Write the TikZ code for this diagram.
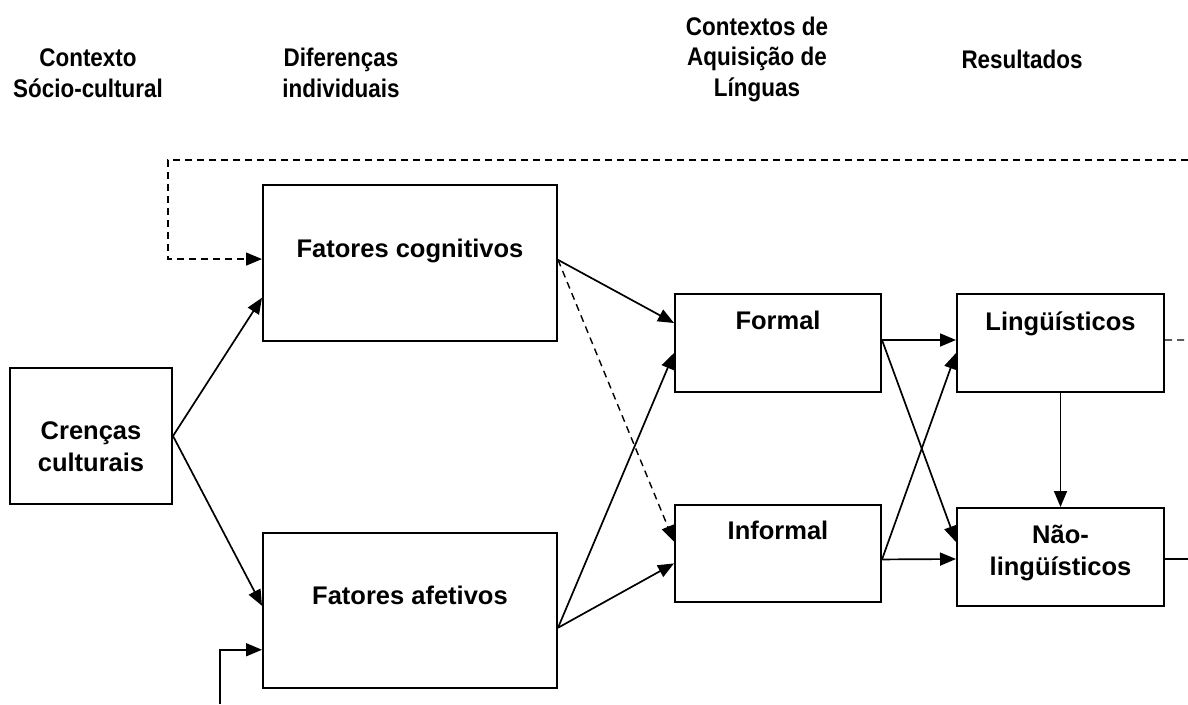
\documentclass[tikz,border=0pt]{standalone}
\usepackage{fontspec}
\setmainfont{Liberation Sans}
\newfontfamily\headfont[FakeStretch=0.88]{Liberation Sans}
\usetikzlibrary{arrows.meta,calc}

\tikzset{
  box/.style={draw, line width=2pt, inner sep=0pt},
  head/.style={font=\headfont\bfseries\fontsize{25.5}{30.5}\selectfont, align=center, anchor=base, inner sep=0pt},
  lbl/.style={font=\bfseries\fontsize{25.5}{31.5}\selectfont, align=center, anchor=base, inner sep=0pt},
  link/.style={line width=1.7pt, -{Triangle[length=16pt,width=13pt]}},
  dlink/.style={line width=1.4pt, dash pattern=on 7pt off 5pt, -{Triangle[length=16pt,width=13pt]}},
  dline/.style={line width=1.4pt, dash pattern=on 7pt off 5pt},
  sline/.style={line width=1.7pt}
}

\begin{document}
\begin{tikzpicture}[x=1pt,y=-1pt]
\useasboundingbox (0,0) rectangle (1188,704);

% column headings (anchored at the baseline of their last line)
\node[head] (h1) at (88,97) {Contexto\\Sócio-cultural};
\node[head] (h2) at (341,97) {Diferenças\\individuais};
\node[head] (h3) at (757,96) {Contextos de\\Aquisição de\\Línguas};
\node[head] (h4) at (1022,68) {Resultados};

% boxes
\node[box, minimum width=162pt, minimum height=136pt] (cren) at (91,436) {};
\node[box, minimum width=294pt, minimum height=156pt] (cog)  at (410,263) {};
\node[box, minimum width=294pt, minimum height=155pt] (afe)  at (410,610.5) {};
\node[box, minimum width=206pt, minimum height=98pt]  (form) at (778,343) {};
\node[box, minimum width=206pt, minimum height=97pt]  (inf)  at (778,553.5) {};
\node[box, minimum width=207pt, minimum height=98pt]  (ling) at (1060.5,343) {};
\node[box, minimum width=207pt, minimum height=98pt]  (nao)  at (1060.5,557) {};

% box texts
\node[lbl] (tcren) at (91,471) {Crenças\\culturais};
\node[lbl] (tcog)  at (410,257) {Fatores cognitivos};
\node[lbl] (tafe)  at (410,604) {Fatores afetivos};
\node[lbl] (tform) at (778,329) {Formal};
\node[lbl] (tinf)  at (778,539) {Informal};
\node[lbl] (tling) at (1060.5,330) {Lingüísticos};
\node[lbl] (tnao)  at (1060.5,575) {Não-\\lingüísticos};

% free ends of the connectors leaving the frame
\coordinate (fbR) at (1188,160);
\coordinate (fbL) at (168,160);
\coordinate (lingOut) at (1188,340);
\coordinate (naoOut) at (1188,559);
\coordinate (bot) at (220,704);

% from cultural beliefs to individual differences
\draw[link] (cren.east) -- ($(cog.north west)!0.72!(cog.south west)$);
\draw[link] (cren.east) -- ($(afe.north west)!0.47!(afe.south west)$);

% feedback loop along the top
\draw[dlink] (fbR) -- (fbL) |- ($(cog.north west)!0.475!(cog.south west)$);
% incoming line at the bottom
\draw[link] (bot) |- ($(afe.north west)!0.75!(afe.south west)$);

% individual differences to acquisition contexts
\coordinate (cogE) at ($(cog.north east)!0.48!(cog.south east)$);
\coordinate (afeE) at ($(afe.north east)!0.61!(afe.south east)$);
\draw[link]  (cogE) -- ($(form.north west)!0.30!(form.south west)$);
\draw[dlink] (cogE) -- ($(inf.north west)!0.38!(inf.south west)$);
\draw[link]  (afeE) -- ($(form.north west)!0.60!(form.south west)$);
\draw[link]  (afeE) -- ($(inf.north west)!0.60!(inf.south west)$);

% acquisition contexts to outcomes
\coordinate (formE) at ($(form.north east)!0.47!(form.south east)$);
\coordinate (infE)  at ($(inf.north east)!0.56!(inf.south east)$);
\draw[link] (formE) -- ($(ling.north west)!0.47!(ling.south west)$);
\draw[link] (formE) -- ($(nao.north west)!0.35!(nao.south west)$);
\draw[link] (infE)  -- ($(ling.north west)!0.60!(ling.south west)$);
\draw[link] (infE)  -- ($(nao.north west)!0.52!(nao.south west)$);

% between the outcomes
\draw[link] (ling.south) -- (nao.north);

% lines leaving on the right
\draw[dline] ($(ling.north east)!0.47!(ling.south east)$) -- (lingOut);
\draw[sline] ($(nao.north east)!0.52!(nao.south east)$) -- (naoOut);
\end{tikzpicture}
\end{document}
